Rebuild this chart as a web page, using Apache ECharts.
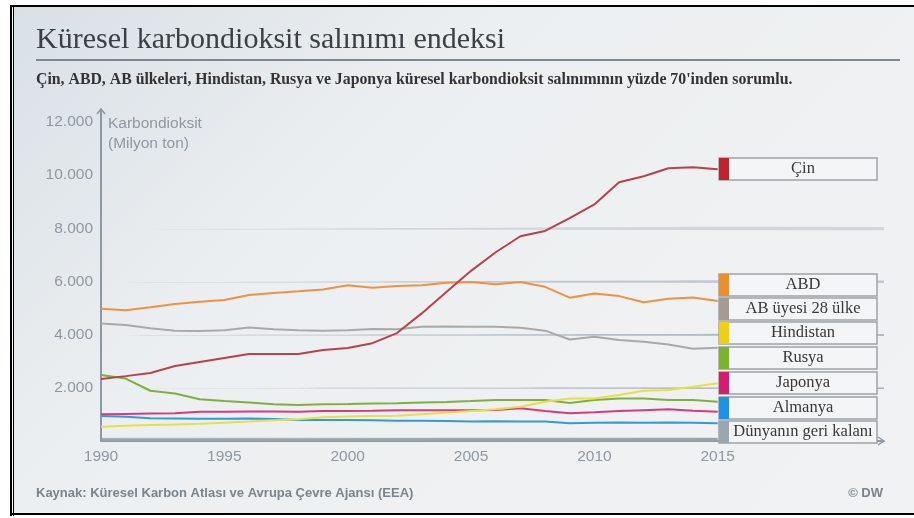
<!DOCTYPE html>
<html>
<head>
<meta charset="utf-8">
<title>Küresel karbondioksit salınımı endeksi</title>
<script src="https://cdn.jsdelivr.net/npm/echarts@6/dist/echarts.min.js"></script>
<style>
  html, body { margin: 0; padding: 0; background: #fff; }
  #wrap { position: relative; width: 914px; height: 518px; background: #fff; }
  #panel {
    position: absolute; left: 14px; top: 7px; width: 900px; height: 506px;
    background: linear-gradient(135deg, #d9e0e6 0%, #eceff1 35%, #f1f2f3 100%);
  }
  #chart { position: absolute; left: 0; top: 0; width: 914px; height: 518px; }
</style>
</head>
<body>
<div id="wrap">
  <div id="panel"></div>
  <div id="chart"></div>
</div>
<script>
// veriler (milyon ton CO2)
const years = [1990,1991,1992,1993,1994,1995,1996,1997,1998,1999,2000,2001,2002,2003,2004,2005,2006,2007,2008,2009,2010,2011,2012,2013,2014,2015];
const china = [2330,2440,2560,2820,2970,3120,3270,3270,3270,3420,3500,3680,4060,4800,5600,6400,7100,7700,7900,8380,8900,9730,9960,10260,10300,10220];
const usa = [4970,4920,5030,5150,5240,5300,5490,5570,5630,5700,5860,5760,5830,5860,5950,5980,5900,5980,5800,5390,5550,5450,5220,5350,5400,5270];
const eu28 = [4420,4360,4240,4150,4140,4170,4270,4200,4170,4150,4170,4210,4200,4300,4310,4300,4300,4260,4150,3820,3920,3800,3730,3630,3470,3510];
const india = [540,570,600,620,650,690,730,780,820,890,920,940,950,1010,1070,1130,1190,1290,1480,1600,1600,1730,1890,1920,2040,2170];
const russia = [2480,2350,1890,1790,1570,1500,1450,1380,1350,1380,1390,1410,1420,1450,1470,1500,1540,1540,1540,1430,1540,1600,1600,1540,1540,1480];
const japan = [1010,1020,1030,1040,1100,1100,1110,1110,1100,1130,1130,1140,1160,1160,1160,1160,1170,1230,1130,1040,1080,1130,1160,1190,1140,1100];
const germany = [940,910,860,850,840,840,850,830,790,790,790,780,760,760,750,730,740,730,730,670,690,700,690,700,690,670];
// dünyanın geri kalanı: alttaki gri şeritler
const rest1 = [120,120,118,118,120,122,122,120,120,122,124,124,126,126,128,128,128,130,130,128,130,130,132,132,132,130];
const rest2 = [110,110,108,108,110,110,112,112,110,112,112,114,114,116,116,118,118,118,120,118,120,120,120,122,122,120];
const rest3 = [100,100,98,98,100,100,100,102,100,102,102,104,104,104,106,106,108,108,108,106,108,110,110,110,112,110];
const rest4 = [90,90,88,88,90,90,92,92,90,92,92,94,94,94,96,96,96,98,98,96,98,98,100,100,100,100];
const rest5 = [80,80,80,78,80,80,82,82,80,82,82,84,84,84,86,86,86,86,88,86,88,88,90,90,90,90];
// eksen etiketleri
const yTicks = [2000, 4000, 6000, 8000, 10000, 12000];
const yTickLabels = ["2.000", "4.000", "6.000", "8.000", "10.000", "12.000"];

const legendNames = ["Çin","ABD","AB üyesi 28 ülke","Hindistan","Rusya","Japonya","Almanya","Dünyanın geri kalanı"];
const lineColors = ["#b9414c","#f0913f","#a9a9a9","#e6df45","#7fb03f","#d63c7c","#3399dd"];
const stripColors = ["#c0232e","#ec8f2a","#a49c94","#f0cf12","#79b52b","#d81b6f","#1e92e8","#9ba6b0"];
const restColors = ["#9aa4ad","#a7b0b8","#b4bcc3","#c2c9cf","#d0d6db"];
const legendTops = [158,274,298,322,347,372,397,421];

const chartInstance = echarts.init(document.getElementById("chart"));

const countrySeries = [china, usa, eu28, india, russia, japan, germany].map((vals, i) => {
  return {
    name: legendNames[i],
    type: "line",
    data: years.map((y, k) => [y, vals[k]]),
    symbol: "none",
    z: 10 - i,
    lineStyle: { color: lineColors[i], width: 2 },
  };
});

const restSeries = [rest1, rest2, rest3, rest4, rest5].map((vals, i) => {
  return {
    name: "rest" + i,
    type: "line",
    stack: "rest",
    data: years.map((y, k) => [y, vals[k]]),
    symbol: "none",
    z: 1,
    lineStyle: { width: 0.8, color: "#e4e8eb" },
    areaStyle: { color: restColors[i], opacity: 1 },
  };
});

// sağdaki kutular
const legendGraphics = [];
legendNames.forEach((name, i) => {
  const top = legendTops[i];
  legendGraphics.push({
    type: "rect",
    shape: { x: 719, y: top, width: 158, height: 22 },
    style: { fill: "#f4f5f6", stroke: "#9fa3a7", lineWidth: 1.5 },
    z: 20,
  });
  legendGraphics.push({
    type: "rect",
    shape: { x: 719, y: top, width: 10, height: 22 },
    style: { fill: stripColors[i] },
    z: 21,
  });
  legendGraphics.push({
    type: "text",
    x: 803,
    y: top + 11,
    style: {
      text: name,
      fill: "#383838",
      font: "16.5px 'Liberation Serif', 'DejaVu Serif', serif",
      align: "center",
      verticalAlign: "middle",
    },
    z: 22,
  });
});

const staticGraphics = [
  // siyah çerçeve
  { type: "rect", shape: { x: 10, y: 5, width: 904, height: 2 }, style: { fill: "#000" }, z: 30 },
  { type: "rect", shape: { x: 10, y: 5, width: 2, height: 511 }, style: { fill: "#000" }, z: 30 },
  { type: "rect", shape: { x: 13, y: 5, width: 1, height: 511 }, style: { fill: "#000" }, z: 30 },
  { type: "rect", shape: { x: 10, y: 513, width: 904, height: 2 }, style: { fill: "#000" }, z: 30 },
  // başlık
  {
    type: "text",
    x: 36,
    y: 40,
    style: {
      text: "Küresel karbondioksit salınımı endeksi",
      fill: "#3b4045",
      font: "30px 'Liberation Serif', 'DejaVu Serif', serif",
      verticalAlign: "middle",
    },
  },
  {
    type: "line",
    shape: { x1: 36, y1: 60, x2: 900, y2: 60 },
    style: { stroke: "#7e878f", lineWidth: 2 },
  },
  {
    type: "text",
    x: 36,
    y: 80,
    style: {
      text: "Çin, ABD, AB ülkeleri, Hindistan, Rusya ve Japonya küresel karbondioksit salınımının yüzde 70'inden sorumlu.",
      fill: "#333",
      font: "bold 15.8px 'Liberation Serif', 'DejaVu Serif', serif",
      verticalAlign: "middle",
    },
  },
  // eksen adı
  {
    type: "text",
    x: 108,
    y: 114,
    style: {
      text: "Karbondioksit\n(Milyon ton)",
      fill: "#8f98a0",
      font: "15.5px 'Liberation Sans', Arial, sans-serif",
      lineHeight: 20,
    },
  },
  // eksen okları
  {
    type: "polyline",
    shape: { points: [[97, 114], [101, 109], [105, 114]] },
    style: { stroke: "#8d98a2", lineWidth: 1.5, fill: null },
  },
  {
    type: "polyline",
    shape: { points: [[878, 437], [884, 441], [878, 445]] },
    style: { stroke: "#8d98a2", lineWidth: 1.5, fill: null },
  },
  // kaynak
  {
    type: "text",
    x: 36,
    y: 493,
    style: {
      text: "Kaynak: Küresel Karbon Atlası ve Avrupa Çevre Ajansı (EEA)",
      fill: "#7b848c",
      font: "bold 13px 'Liberation Sans', Arial, sans-serif",
      verticalAlign: "middle",
    },
  },
  {
    type: "text",
    x: 883,
    y: 493,
    style: {
      text: "© DW",
      fill: "#7b848c",
      font: "bold 13px 'Liberation Sans', Arial, sans-serif",
      align: "right",
      verticalAlign: "middle",
    },
  },
];

const option = {
  backgroundColor: "transparent",
  animation: false,
  grid: { left: 101, right: 31, top: 110, bottom: 77, show: false },
  xAxis: {
    type: "value",
    min: 1990,
    max: 2021.7,
    interval: 5,
    splitLine: { show: false },
    axisTick: { show: false },
    axisLine: { lineStyle: { color: "#8d98a2", width: 2 } },
    axisLabel: {
      color: "#8f98a0",
      fontSize: 15.5,
      fontFamily: "Liberation Sans, Arial, sans-serif",
      margin: 8,
      formatter: (v) => (v <= 2015 && v % 5 === 0 ? String(v) : ""),
    },
  },
  // y ekseni gizli; etiketler ve çizgi aşağıda ölçekten çiziliyor
  yAxis: {
    type: "value",
    show: false,
    min: 0,
    max: 12450,
    interval: 2000,
    splitLine: { show: false },
  },
  series: restSeries.concat(countrySeries),
};

chartInstance.setOption(option);

// y ekseni: çizgi ve etiketler ölçekten
const axisX = chartInstance.convertToPixel({ xAxisIndex: 0 }, 1990);
const yAxisGraphics = [
  {
    type: "line",
    shape: {
      x1: axisX, y1: chartInstance.convertToPixel({ yAxisIndex: 0 }, 0),
      x2: axisX, y2: chartInstance.convertToPixel({ yAxisIndex: 0 }, 12450),
    },
    style: { stroke: "#8d98a2", lineWidth: 2 },
    z: 5,
  },
];
yTicks.forEach((v, i) => {
  yAxisGraphics.push({
    type: "text",
    x: axisX - 8,
    y: chartInstance.convertToPixel({ yAxisIndex: 0 }, v),
    style: {
      text: yTickLabels[i],
      fill: "#8f98a0",
      font: "15.5px 'Liberation Sans', Arial, sans-serif",
      align: "right",
      verticalAlign: "middle",
    },
  });
});

chartInstance.setOption({ graphic: staticGraphics.concat(yAxisGraphics, legendGraphics) });
</script>
</body>
</html>
